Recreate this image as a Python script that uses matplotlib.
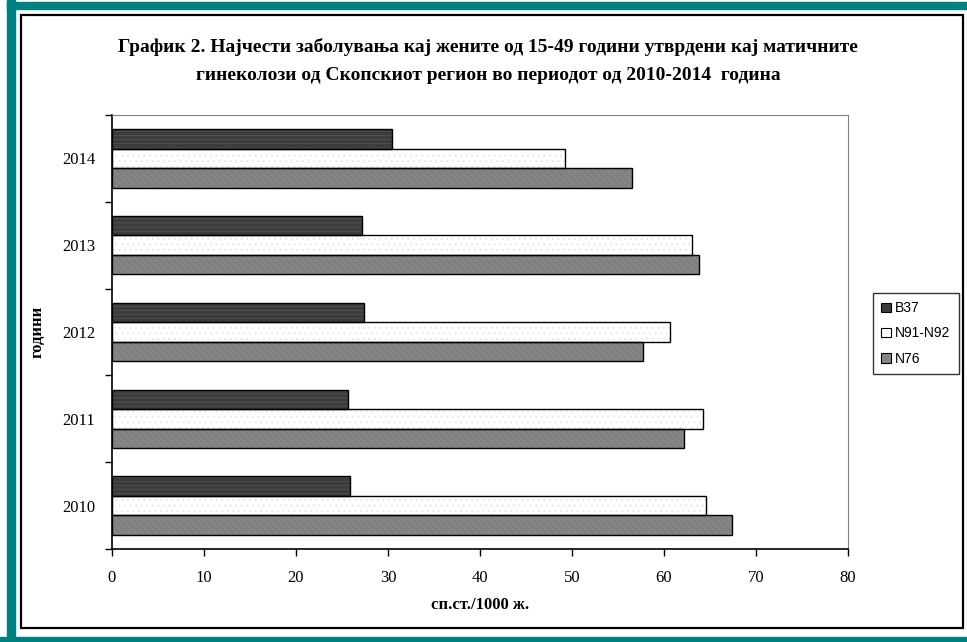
import numpy as np
import matplotlib.pyplot as plt
from matplotlib.patches import Rectangle, Patch

plt.rcParams['hatch.linewidth'] = 0.5

# податоци
godini = ["2010", "2011", "2012", "2013", "2014"]
b37 = [25.9, 25.7, 27.4, 27.2, 30.4]
n91_n92 = [64.6, 64.2, 60.6, 63.0, 49.2]
n76 = [67.4, 62.2, 57.7, 63.8, 56.5]
serii = ["B37", "N91-N92", "N76"]

naslov = ("График 2. Најчести заболувања кај жените од 15-49 години утврдени кај матичните\n"
          "гинеколози од Скопскиот регион во периодот од 2010-2014  година")

fig = plt.figure(figsize=(9.67, 6.42), dpi=100)
W, H = 967.0, 642.0

# рамка (тиркизна + црна)
TEAL = "#008080"
fig.patches.append(Rectangle((7 / W, 0), 8 / W, 1, color=TEAL, transform=fig.transFigure, zorder=0))
fig.patches.append(Rectangle((7 / W, 1 - 9 / H), 1, 7 / H, color=TEAL, transform=fig.transFigure, zorder=0))
fig.patches.append(Rectangle((0, 0), 1, 5 / H, color=TEAL, transform=fig.transFigure, zorder=0))
fig.patches.append(Rectangle((20.5 / W, 1 - 628 / H), 942 / W, 613 / H, fill=False, ec="black",
                             lw=1.6, transform=fig.transFigure, zorder=1))

ax = fig.add_axes([112 / W, 1 - 549 / H, 736 / W, 434 / H])

y = np.arange(len(godini))
h = 0.225
stilovi = [
    (b37, h, "#3c3c3c", "#565656", "----"),
    (n91_n92, 0, "#ffffff", "#e2e2e2", "..."),
    (n76, -h, "#858585", "#767676", "\\\\\\\\\\"),
]
for vals, off, fc, hc, hatch in stilovi:
    ax.barh(y + off, vals, height=h, color=fc, edgecolor=hc, hatch=hatch, lw=0, zorder=2)
    ax.barh(y + off, vals, height=h, fill=False, edgecolor="black", lw=1.0, zorder=3)

ax.set_xlim(0, 80)
ax.set_ylim(-0.5, len(godini) - 0.5)
ax.set_xticks(np.arange(0, 81, 10))
ax.set_yticks(y)
ax.set_yticklabels(godini)
ax.set_yticks(np.arange(-0.5, len(godini), 1), minor=True)
ax.tick_params(axis="y", which="major", length=0, pad=12)
ax.tick_params(axis="y", which="minor", length=5, direction="out", width=1)
ax.tick_params(axis="x", length=5, direction="out", width=1, pad=10)
for lab in ax.get_xticklabels() + ax.get_yticklabels():
    lab.set_family("Liberation Serif")
    lab.set_fontsize(12)

for s in ["top", "right"]:
    ax.spines[s].set_color("#808080")
for s in ["left", "bottom"]:
    ax.spines[s].set_color("black")
    ax.spines[s].set_linewidth(1.2)

ax.set_xlabel("сп.ст./1000 ж.", family="Liberation Serif", fontweight="bold", fontsize=12, labelpad=8)
ax.set_ylabel("години", family="Liberation Serif", fontweight="bold", fontsize=12, labelpad=12)

fig.text(488 / W, 1 - 61 / H, naslov, ha="center", va="center", family="Liberation Serif",
         fontweight="bold", fontsize=14, linespacing=1.8)

rakovi = [Patch(facecolor=s[2], edgecolor="black", lw=0.8) for s in stilovi]
leg = fig.legend(rakovi, serii, loc="upper left", bbox_to_anchor=(873 / W, 1 - 293 / H),
                 frameon=True, fancybox=False, edgecolor="black", prop={"family": "Liberation Sans", "size": 10},
                 handlelength=0.7, handleheight=0.7, handletextpad=0.3, labelspacing=0.8,
                 borderpad=0.6, borderaxespad=0)
leg.get_frame().set_linewidth(1.0)

fig.savefig("out.png", dpi=100)
